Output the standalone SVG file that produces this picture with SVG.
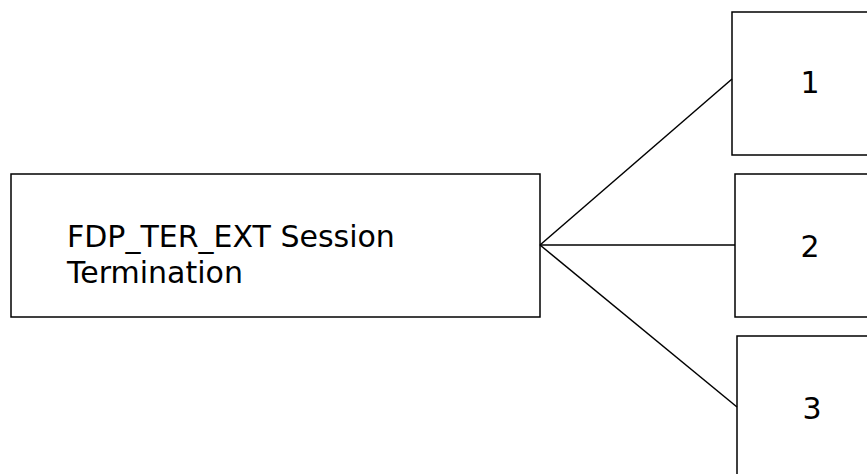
<svg xmlns="http://www.w3.org/2000/svg" width="867" height="474" viewBox="0 0 867 474">
<style>
.box{fill:#fff;stroke:#000;stroke-width:1.5}
.t{font-family:"DejaVu Sans",Verdana,sans-serif;font-size:30px;fill:#000}
.c{fill:none;stroke:#000;stroke-width:1.5}
</style>
<rect width="867" height="474" fill="#fff"/>
<g id="main"><rect class="box" x="11" y="174" width="529" height="143"/>
<text class="t" x="67" y="247">FDP_TER_EXT Session</text>
<text class="t" x="67" y="283">Termination</text></g>
<g id="n1"><rect class="box" x="732" y="12" width="140" height="143"/><text class="t" x="810" y="93" text-anchor="middle">1</text></g>
<g id="n2"><rect class="box" x="735" y="174" width="140" height="143"/><text class="t" x="810" y="257" text-anchor="middle">2</text></g>
<g id="n3"><rect class="box" x="737" y="336" width="140" height="145"/><text class="t" x="812" y="419" text-anchor="middle">3</text></g>
<g id="connectors">
<line class="c" x1="540" y1="245" x2="732" y2="79"/>
<line class="c" x1="540" y1="245" x2="735" y2="245"/>
<line class="c" x1="540" y1="245" x2="737" y2="407"/>
</g>
</svg>
